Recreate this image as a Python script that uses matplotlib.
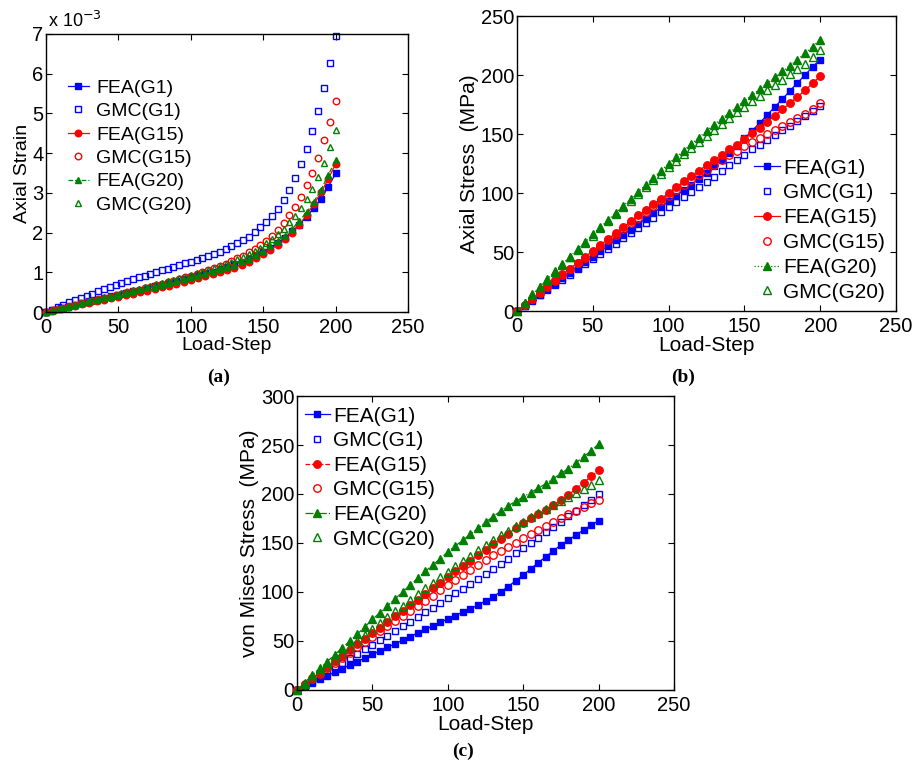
import numpy as np
import matplotlib
matplotlib.use("Agg")
import matplotlib.pyplot as plt

plt.rcParams['font.family'] = ['Liberation Sans', 'DejaVu Sans']

# load steps: FEA sampled every 5 steps, GMC strain every 4 steps
steps_fea = np.arange(0, 201, 5)
steps_gmc_a = np.arange(0, 201, 4)
steps_gmc = np.arange(0, 201, 5)

labels = ['FEA(G1)', 'GMC(G1)', 'FEA(G15)', 'GMC(G15)', 'FEA(G20)', 'GMC(G20)']

# (a) axial strain, x 1e-3
fea_g1_a = [0, 0.045, 0.09, 0.135, 0.18, 0.225, 0.27, 0.315, 0.36, 0.40, 0.44, 0.48, 0.52, 0.56,
            0.60, 0.645, 0.69, 0.73, 0.78, 0.82, 0.87, 0.92, 0.97, 1.02, 1.08, 1.14, 1.20, 1.27,
            1.34, 1.43, 1.52, 1.62, 1.74, 1.87, 2.03, 2.20, 2.40, 2.62, 2.85, 3.16, 3.49]
gmc_g1_a = [0, 0.06, 0.12, 0.18, 0.24, 0.30, 0.35, 0.41, 0.46, 0.52, 0.57, 0.63, 0.68, 0.72, 0.77,
            0.82, 0.87, 0.91, 0.96, 1.00, 1.05, 1.09, 1.14, 1.18, 1.23, 1.27, 1.31, 1.36, 1.41,
            1.46, 1.52, 1.58, 1.65, 1.73, 1.81, 1.90, 2.01, 2.13, 2.27, 2.42, 2.60, 2.82, 3.07,
            3.37, 3.72, 4.10, 4.56, 5.07, 5.64, 6.27, 6.96]
fea_g15_a = [0, 0.04, 0.08, 0.12, 0.155, 0.19, 0.23, 0.27, 0.305, 0.345, 0.385, 0.42, 0.46, 0.50,
             0.54, 0.58, 0.62, 0.66, 0.71, 0.75, 0.80, 0.85, 0.90, 0.96, 1.01, 1.06, 1.12, 1.19,
             1.27, 1.36, 1.46, 1.57, 1.69, 1.84, 1.99, 2.20, 2.45, 2.72, 3.01, 3.36, 3.73]
gmc_g15_a = [0, 0.035, 0.07, 0.11, 0.145, 0.18, 0.215, 0.25, 0.285, 0.32, 0.355, 0.39, 0.425,
             0.46, 0.495, 0.53, 0.565, 0.60, 0.64, 0.675, 0.71, 0.75, 0.79, 0.83, 0.87, 0.91,
             0.96, 1.00, 1.05, 1.10, 1.16, 1.22, 1.28, 1.35, 1.42, 1.50, 1.59, 1.69, 1.79, 1.92,
             2.07, 2.24, 2.43, 2.65, 2.89, 3.19, 3.51, 3.89, 4.32, 4.79, 5.32]
fea_g20_a = [0, 0.045, 0.09, 0.135, 0.18, 0.22, 0.265, 0.31, 0.35, 0.39, 0.43, 0.47, 0.51, 0.555,
             0.595, 0.64, 0.68, 0.72, 0.77, 0.815, 0.86, 0.91, 0.96, 1.02, 1.08, 1.13, 1.19, 1.26,
             1.34, 1.43, 1.54, 1.65, 1.80, 1.92, 2.09, 2.30, 2.51, 2.78, 3.08, 3.46, 3.82]
gmc_g20_a = [0, 0.037, 0.075, 0.11, 0.15, 0.185, 0.22, 0.26, 0.295, 0.33, 0.37, 0.405, 0.44,
             0.475, 0.51, 0.55, 0.585, 0.62, 0.66, 0.695, 0.73, 0.77, 0.81, 0.85, 0.89, 0.93,
             0.97, 1.02, 1.06, 1.11, 1.16, 1.21, 1.27, 1.33, 1.39, 1.46, 1.53, 1.62, 1.73, 1.85,
             1.97, 2.10, 2.26, 2.42, 2.62, 2.84, 3.10, 3.41, 3.76, 4.16, 4.59]

# (b) axial stress, MPa
fea_g1_b = [0, 4.6, 9.2, 13.8, 18.4, 23.0, 27.6, 32.2, 36.8, 41.4, 46.0, 50.6, 55.2, 59.8, 64.4,
            69.0, 73.7, 78.3, 83.0, 88.0, 93.0, 97.7, 102.3, 107.1, 112.1, 117.3, 122.7, 128.3,
            134.1, 140.1, 146.3, 152.7, 159.3, 166.0, 173.0, 179.5, 186.5, 193.5, 200.0, 207.0, 213.0]
gmc_g1_b = [0, 4.4, 8.8, 13.2, 17.6, 22.0, 26.4, 30.8, 35.2, 39.6, 44.0, 48.4, 52.8, 57.2, 61.6,
            66.0, 70.4, 74.8, 79.2, 83.6, 88.0, 92.3, 96.6, 100.9, 105.2, 109.5, 113.9, 118.8,
            123.5, 128.0, 132.5, 137.0, 141.0, 145.0, 149.0, 153.0, 157.0, 161.0, 165.5, 169.8, 174.0]
fea_g15_b = [0, 5.2, 10.4, 15.6, 20.8, 26.0, 31.0, 36.0, 41.0, 46.0, 51.0, 56.0, 61.0, 66.0, 71.0,
             76.0, 81.0, 86.0, 90.5, 95.0, 100.0, 105.0, 110.0, 114.5, 119.0, 123.5, 128.0, 132.5,
             137.0, 141.0, 146.0, 150.5, 155.5, 160.5, 165.5, 171.0, 176.0, 181.5, 187.0, 193.0, 199.0]
gmc_g15_b = [0, 5.1, 10.2, 15.3, 20.3, 25.3, 30.3, 35.3, 40.3, 45.2, 50.1, 55.0, 59.9, 64.8, 69.6,
             74.4, 79.2, 83.9, 88.6, 93.3, 97.9, 102.4, 106.9, 111.3, 115.6, 119.8, 124.0, 128.0,
             132.0, 135.8, 139.5, 143.1, 146.6, 150.0, 153.3, 156.5, 159.8, 163.3, 167.0, 171.0, 176.0]
fea_g20_b = [0, 7.0, 14.0, 20.5, 27.0, 33.5, 40.0, 46.0, 52.5, 58.5, 65.0, 71.0, 77.0, 83.0, 89.0,
             95.0, 101.0, 107.0, 113.0, 119.0, 125.0, 130.5, 136.0, 141.5, 147.0, 152.5, 158.0,
             163.0, 168.0, 173.0, 178.0, 183.0, 188.0, 193.0, 198.0, 203.0, 208.0, 213.0, 218.5,
             224.0, 230.0]
gmc_g20_b = [0, 6.8, 13.6, 20.0, 26.5, 33.0, 39.0, 45.5, 51.5, 57.5, 64.0, 70.0, 76.0, 82.0, 88.0,
             93.5, 99.5, 105.0, 111.0, 116.5, 122.0, 127.5, 133.0, 138.0, 143.5, 148.5, 153.5,
             158.5, 163.5, 168.5, 173.0, 178.0, 182.5, 187.0, 191.5, 196.0, 200.5, 205.0, 209.5,
             215.0, 221.0]

# (c) von Mises stress, MPa
fea_g1_c = [0, 3.7, 7.4, 11.0, 14.6, 18.2, 21.8, 25.4, 29.0, 32.7, 36.3, 39.9, 43.5, 47.2, 50.8,
            54.5, 58.2, 61.8, 65.5, 69.0, 72.5, 76.0, 79.5, 83.0, 86.5, 90.8, 95.2, 100.3, 105.4,
            111.6, 117.3, 123.5, 130.0, 136.0, 142.0, 148.0, 153.0, 158.2, 163.3, 168.0, 172.8]
gmc_g1_c = [0, 4.6, 9.2, 13.8, 18.4, 23.0, 27.6, 32.2, 36.8, 41.4, 46.0, 50.7, 55.4, 60.1, 64.8,
            69.6, 74.4, 79.2, 84.0, 88.8, 93.6, 98.5, 103.4, 108.4, 113.4, 118.5, 123.6, 128.8,
            134.0, 139.3, 144.6, 150.0, 155.4, 160.8, 166.3, 171.8, 177.3, 182.9, 188.5, 194.2, 200.0]
fea_g15_c = [0, 6.0, 12.0, 17.8, 23.5, 29.2, 35.0, 40.8, 46.5, 52.2, 57.8, 63.5, 69.2, 75.0, 80.8,
             86.5, 92.3, 98.0, 103.8, 109.6, 115.5, 121.0, 126.5, 132.0, 137.5, 143.0, 148.5,
             154.0, 159.5, 165.0, 170.5, 175.0, 179.5, 184.0, 188.5, 193.5, 199.0, 205.5, 211.5,
             218.0, 224.0]
gmc_g15_c = [0, 5.6, 11.2, 16.6, 22.0, 27.4, 32.8, 38.2, 43.6, 49.0, 54.4, 59.7, 65.0, 70.3, 75.6,
             80.8, 86.0, 91.2, 96.4, 101.6, 106.8, 112.0, 117.2, 122.4, 127.5, 132.8, 137.8, 141.8,
             146.2, 150.3, 154.8, 158.9, 163.3, 167.3, 171.8, 175.2, 179.3, 183.0, 186.4, 190.5, 194.0]
fea_g20_c = [0, 7.5, 15.0, 22.0, 29.0, 36.0, 43.0, 50.0, 57.0, 64.5, 72.0, 79.0, 86.0, 93.0, 100.0,
             107.0, 114.0, 121.0, 127.5, 134.0, 141.0, 147.0, 153.0, 159.0, 165.0, 171.0, 177.0,
             182.5, 188.0, 192.5, 197.0, 201.5, 206.0, 210.5, 215.5, 221.0, 226.0, 232.0, 238.0,
             244.0, 251.0]
gmc_g20_c = [0, 6.5, 13.0, 19.3, 25.6, 31.8, 38.0, 44.1, 50.2, 56.3, 62.4, 68.4, 74.3, 80.2, 86.1,
             92.0, 97.9, 103.7, 109.5, 115.2, 120.8, 126.3, 131.8, 137.2, 142.5, 147.7, 152.8,
             157.8, 162.6, 167.3, 171.8, 176.2, 180.5, 184.7, 188.8, 192.8, 196.8, 200.8, 204.9,
             209.3, 214.0]

blue = '#0000ff'
red = '#ff0000'
green = '#008000'


def draw_panel(ax, x_gmc, series, fea_styles, ylim, ylabel, ms, leg, label_fs=15):
    fea1, gmc1, fea15, gmc15, fea20, gmc20 = series
    ax.plot(steps_fea, fea1, linestyle=fea_styles[0], color=blue, lw=0.9, marker='s',
            ms=ms, mfc=blue, mec=blue, clip_on=False, label=labels[0])
    ax.plot(x_gmc, gmc1, linestyle='none', marker='s', ms=ms, mfc='none', mec=blue,
            mew=1.0, clip_on=False, label=labels[1])
    ax.plot(steps_fea, fea15, linestyle=fea_styles[1], color=red, lw=0.9, marker='o',
            ms=ms * 1.12, mfc=red, mec=red, clip_on=False, label=labels[2])
    ax.plot(x_gmc, gmc15, linestyle='none', marker='o', ms=ms * 1.12, mfc='none', mec=red,
            mew=1.0, clip_on=False, label=labels[3])
    ax.plot(steps_fea, fea20, linestyle=fea_styles[2], color=green, lw=0.9, marker='^',
            ms=ms * 1.15, mfc=green, mec=green, clip_on=False, label=labels[4])
    ax.plot(x_gmc, gmc20, linestyle='none', marker='^', ms=ms * 1.15, mfc='none', mec=green,
            mew=1.0, clip_on=False, label=labels[5])

    ax.set_xlim(0, 250)
    ax.set_ylim(*ylim)
    ax.set_xticks(np.arange(0, 251, 50))
    ax.tick_params(direction='in', top=True, right=True, length=4, width=0.8, labelsize=14.5)
    ax.tick_params(axis='x', pad=4)
    ax.tick_params(axis='y', pad=2)
    for sp in ax.spines.values():
        sp.set_linewidth(1.0)
    ax.set_xlabel('Load-Step', fontsize=label_fs, labelpad=0)
    ax.set_ylabel(ylabel, fontsize=label_fs, labelpad=1)
    ax.legend(loc='upper left', bbox_to_anchor=leg['anchor'], frameon=False, numpoints=1,
              fontsize=leg['fs'], handlelength=leg['hl'], handletextpad=leg['pad'],
              labelspacing=leg['sp'], borderpad=0, borderaxespad=0)


fig = plt.figure(figsize=(9.17, 7.67), dpi=100)

ax_a = fig.add_axes([0.0502, 0.5932, 0.3948, 0.3625])
draw_panel(ax_a, steps_gmc_a, [fea_g1_a, gmc_g1_a, fea_g15_a, gmc_g15_a, fea_g20_a, gmc_g20_a],
           ['-', '-', '--'], (0, 7), 'Axial Strain', 4.2,
           dict(anchor=(0.061, 0.838), fs=14, hl=1.05, pad=0.4, sp=0.30), label_fs=14)
ax_a.set_yticks(np.arange(0, 8, 1))
ax_a.text(0.005, 1.01, 'x 10$^{-3}$', transform=ax_a.transAxes, fontsize=13,
          ha='left', va='bottom')

ax_b = fig.add_axes([0.5638, 0.5945, 0.4133, 0.3846])
draw_panel(ax_b, steps_gmc, [fea_g1_b, gmc_g1_b, fea_g15_b, gmc_g15_b, fea_g20_b, gmc_g20_b],
           ['-', '-', ':'], (0, 250), 'Axial Stress  (MPa)', 4.8,
           dict(anchor=(0.625, 0.517), fs=15, hl=1.25, pad=0.15, sp=0.28))
ax_b.set_yticks(np.arange(0, 251, 50))

ax_c = fig.add_axes([0.3239, 0.1004, 0.4111, 0.3833])
draw_panel(ax_c, steps_gmc, [fea_g1_c, gmc_g1_c, fea_g15_c, gmc_g15_c, fea_g20_c, gmc_g20_c],
           ['-', '--', '-.'], (0, 300), 'von Mises Stress  (MPa)', 4.8,
           dict(anchor=(0.021, 0.964), fs=15, hl=1.2, pad=0.15, sp=0.27))
ax_c.set_yticks(np.arange(0, 301, 50))

for lab, xy in [('a', (0.238, 0.508)), ('b', (0.745, 0.508)), ('c', (0.505, 0.02))]:
    fig.text(xy[0], xy[1], '(' + lab + ')', fontsize=14, family='Liberation Serif',
             fontweight='bold', ha='center', va='center')

fig.savefig('out.png', dpi=100)
